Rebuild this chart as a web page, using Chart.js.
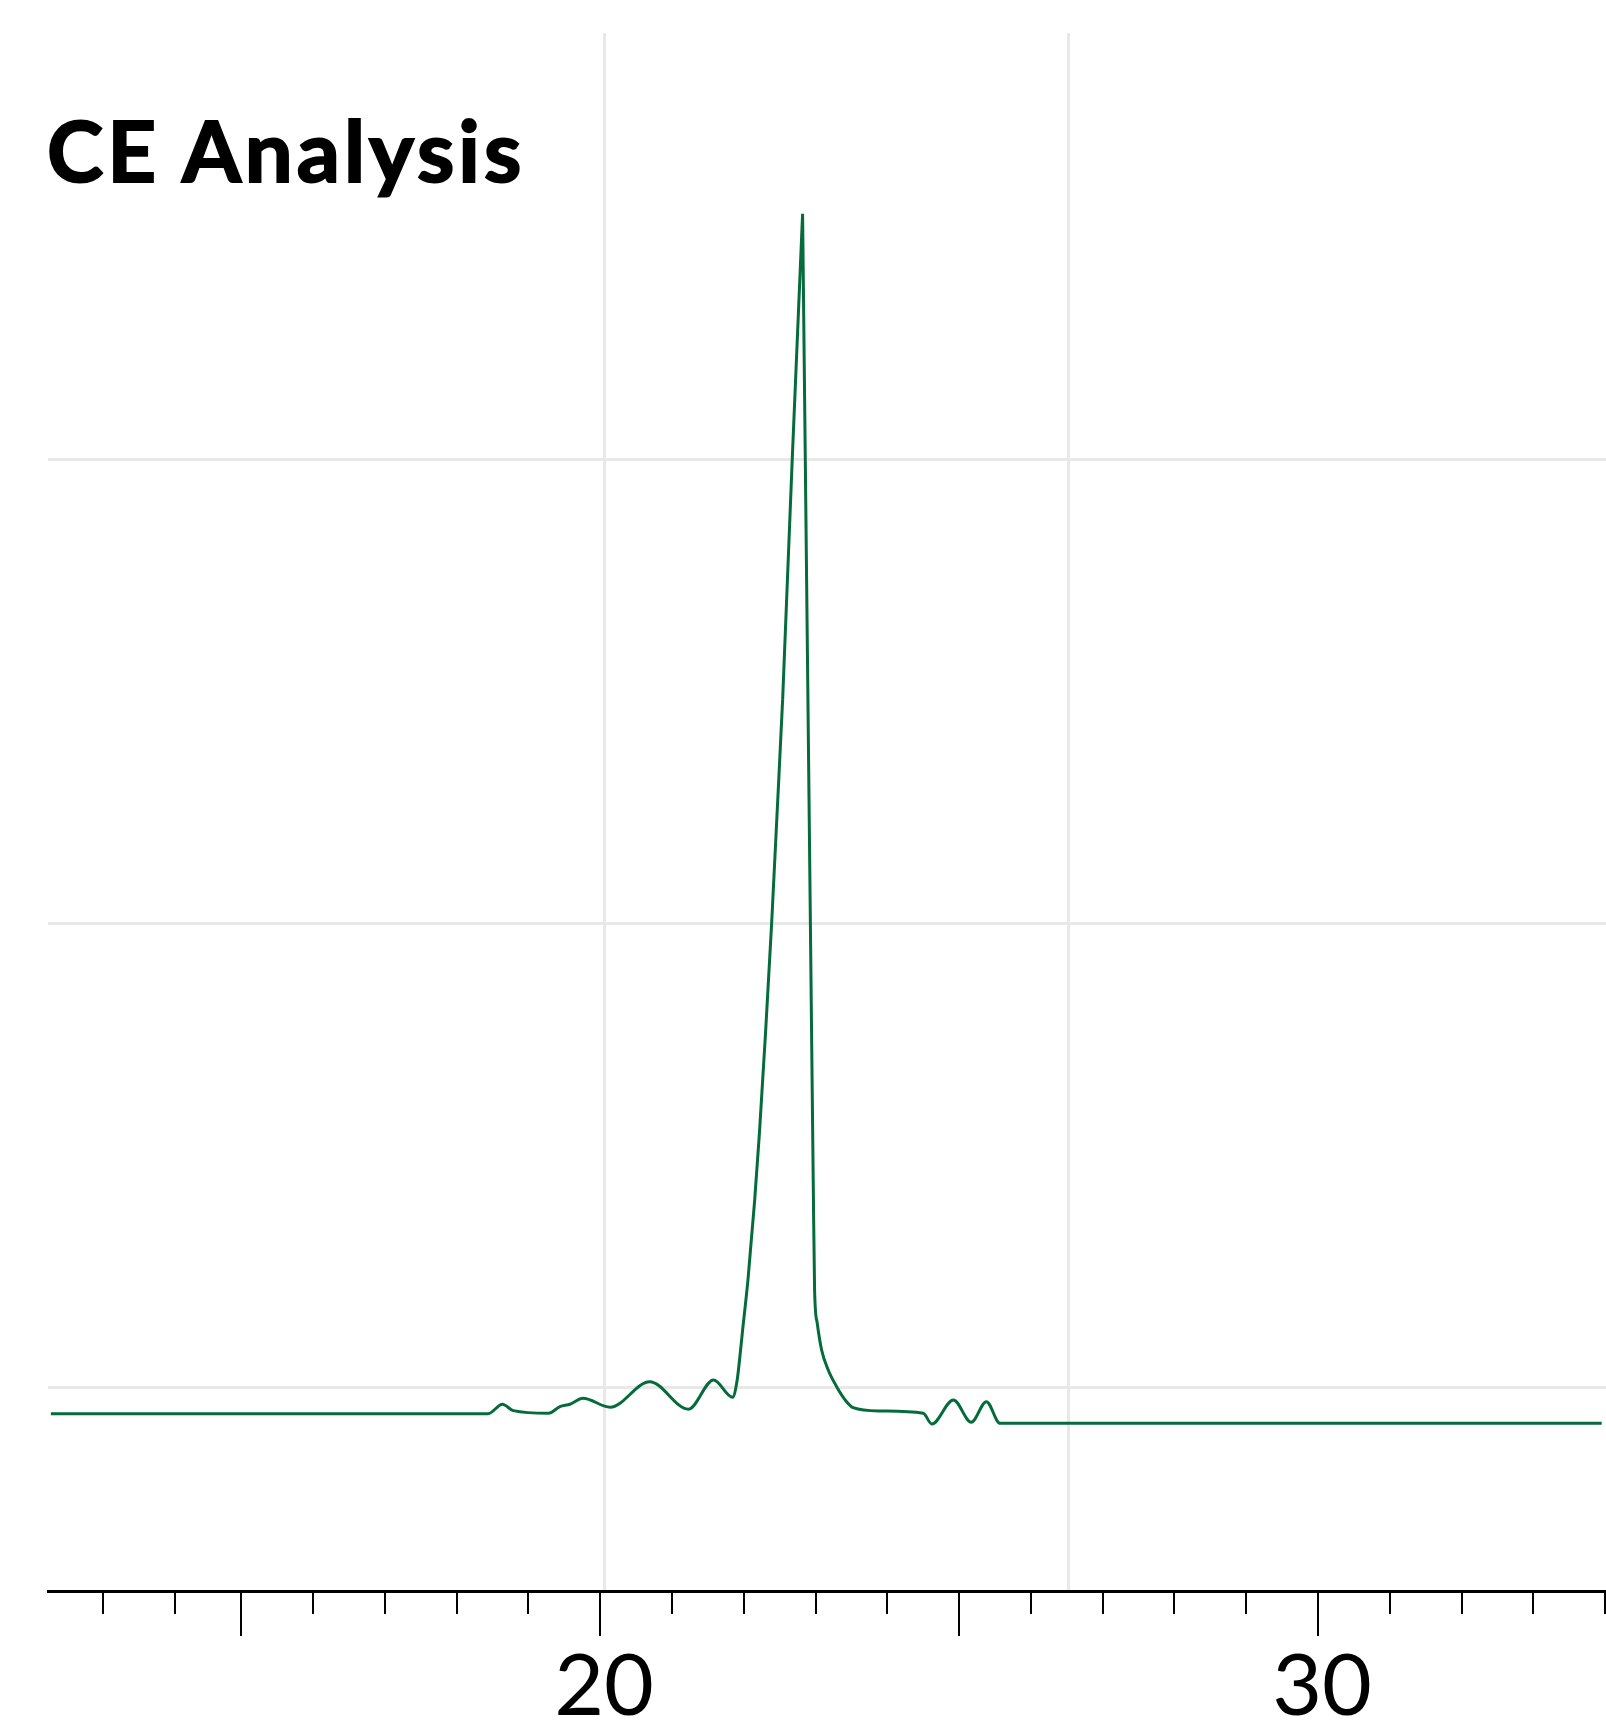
<!DOCTYPE html>
<html>
<head>
<meta charset="utf-8">
<title>CE Analysis</title>
<script src="https://cdn.jsdelivr.net/npm/chart.js@4.4.1/dist/chart.umd.min.js"></script>
<style>
  html, body { margin: 0; padding: 0; background: #fff; overflow: hidden; }
  #wrap { position: relative; width: 1606px; height: 1722px; }
  #title {
    position: absolute; left: 47px; top: 107px; margin: 0;
    font: 700 85px/1 Lato, sans-serif; color: #000; letter-spacing: 4px;
    -webkit-text-stroke: 2px #000;
  }
</style>
</head>
<body>
<div id="wrap">
  <canvas id="ceChart"></canvas>
  <h1 id="title">CE Analysis</h1>
</div>
<script>
// migration time (min) and signal
const timeMin = [12.35, 18.44, 18.64, 18.79, 19.28, 19.44, 19.58, 19.76, 20.14, 20.69,
                 21.23, 21.58, 21.845, 21.909, 21.937, 21.985, 22.059, 22.153, 22.219, 22.304,
                 22.389, 22.542, 22.676, 22.82, 22.968, 22.987, 23.024, 23.085, 23.177, 23.294,
                 23.433, 23.525, 23.897, 24.50, 24.62, 24.92, 25.17, 25.38, 25.57, 33.95];
const signal  = [-5.6, -5.6, -3.58, -4.95, -5.51, -4.09, -3.58, -2.28, -4.22, 1.29,
                 -4.65, 1.66, -2.07, 1.66, 5.26, 12.43, 23.2, 40.44, 54.87, 76.41,
                 100.04, 148.15, 200.06, 252.84, 44.74, 21.05, 13.87, 8.12, 3.81, 0.22,
                 -3.02, -4.31, -5.02, -5.51, -7.82, -2.65, -7.45, -3.02, -7.67, -7.67];

// the top of the main peak is drawn with straight segments between these indexes
const PEAK_FROM = 21;
const PEAK_TO = 24;

// tick mark positions as they sit on the printed axis
const tickValues = [13.08, 14.08, 15, 16, 17, 18, 19, 20, 21, 22, 23, 24, 25, 26, 27, 28, 29, 30, 31, 32, 33, 34];
const majorTicks = [15, 20, 25, 30];
const tickLabels = [20, 30];
const gridX = [20.06, 26.52];
const gridY = [0, 100, 200];

const X_MIN = 12.31, X_MAX = 34.01;
const Y_MIN = -43.8, Y_MAX = 291.8;

const green = '#066b3b';
const gridColor = '#e8e8e8';

const points = timeMin.map((t, i) => ({ x: t, y: signal[i] }));

// little tick marks under the axis, long ones every 5 min
const tickMarks = {
  id: 'tickMarks',
  afterDraw(chart) {
    const sc = chart.scales.x;
    const ctx = chart.ctx;
    ctx.save();
    ctx.strokeStyle = '#000';
    ctx.lineWidth = 2;
    tickValues.forEach(v => {
      const px = Math.round(sc.getPixelForValue(v));
      const len = majorTicks.includes(v) ? 45 : 23;
      ctx.beginPath();
      ctx.moveTo(px, sc.top);
      ctx.lineTo(px, sc.top + len);
      ctx.stroke();
    });
    ctx.restore();
  }
};

const lineStyle = {
  borderColor: green,
  borderWidth: 3,
  pointRadius: 0,
  fill: false
};

new Chart(document.getElementById('ceChart'), {
  type: 'line',
  data: {
    datasets: [
      { ...lineStyle, data: points.slice(0, PEAK_FROM + 1), cubicInterpolationMode: 'monotone' },
      { ...lineStyle, data: points.slice(PEAK_FROM, PEAK_TO + 1), tension: 0 },
      { ...lineStyle, data: points.slice(PEAK_TO), cubicInterpolationMode: 'monotone' }
    ]
  },
  options: {
    responsive: true,
    maintainAspectRatio: false,
    animation: false,
    layout: { padding: { left: 48, top: 33, right: 0, bottom: 0 } },
    plugins: { legend: { display: false }, tooltip: { enabled: false } },
    scales: {
      x: {
        type: 'linear',
        position: 'bottom',
        min: X_MIN,
        max: X_MAX,
        afterBuildTicks: s => { s.ticks = tickValues.map(v => ({ value: v })); },
        afterFit: s => { s.height = 131; },
        grid: { display: true, drawOnChartArea: false, drawTicks: true, tickLength: 45, tickColor: 'rgba(0,0,0,0)' },
        border: { display: true, color: '#000', width: 3 },
        ticks: {
          autoSkip: false,
          maxRotation: 0,
          minRotation: 0,
          padding: 0,
          labelOffset: 4,
          color: '#000',
          font: { family: 'Lato', size: 86, weight: 400 },
          callback: v => tickLabels.includes(v) ? String(v) : null
        }
      },
      xg: {
        type: 'linear',
        position: 'top',
        min: X_MIN,
        max: X_MAX,
        afterBuildTicks: s => { s.ticks = gridX.map(v => ({ value: v })); },
        afterFit: s => { s.height = 0; },
        grid: { color: gridColor, lineWidth: 3, drawTicks: false },
        border: { display: false },
        ticks: { display: false }
      },
      y: {
        type: 'linear',
        min: Y_MIN,
        max: Y_MAX,
        afterBuildTicks: s => { s.ticks = gridY.map(v => ({ value: v })); },
        afterFit: s => { s.width = 0; },
        grid: { color: gridColor, lineWidth: 3, drawTicks: false },
        border: { display: false },
        ticks: { display: false }
      }
    }
  },
  plugins: [tickMarks]
});
</script>
</body>
</html>
